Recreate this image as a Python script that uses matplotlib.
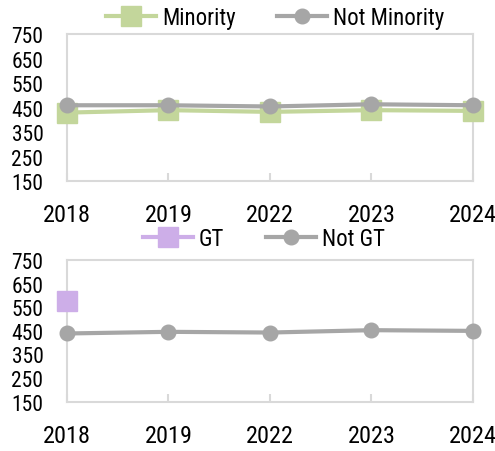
import matplotlib
matplotlib.use('Agg')
import matplotlib.pyplot as plt

# данные
years = ['2018', '2019', '2022', '2023', '2024']
minority = [430, 440, 433, 440, 437]
not_minority = [460, 460, 455, 464, 460]
gt = [577, None, None, None, None]
not_gt = [439, 446, 443, 453, 450]

plt.rcParams['font.family'] = ['Roboto Condensed', 'DejaVu Sans']

green = '#c3d69b'
grey = '#a6a6a6'
lilac = '#cdaee8'
frame = '#d9d9d9'

fig = plt.figure(figsize=(4.95, 4.52), dpi=100)
ax1 = fig.add_axes([0.1354, 0.597, 0.820, 0.325])
ax2 = fig.add_axes([0.1354, 0.109, 0.820, 0.3135])

x = list(range(len(years)))


def style(ax):
    ax.set_xlim(0, 4)
    ax.set_ylim(150, 750)
    ax.set_yticks(range(150, 751, 100))
    ax.set_xticks(x)
    ax.set_xticklabels(years)
    for s in ax.spines.values():
        s.set_color(frame)
        s.set_linewidth(1.5)
    ax.tick_params(axis='y', length=0, pad=17, labelsize=15.5)
    ax.tick_params(axis='x', direction='in', length=6, color=frame, width=1.5,
                   pad=16, labelsize=17.5)


def legend(ax, xc, yc):
    ax.legend(loc='lower center', bbox_to_anchor=(xc, yc), ncol=2, frameon=False,
              fontsize=16.5, handlelength=2.2, columnspacing=1.8, handletextpad=0.25,
              borderpad=0)


ax1.plot(x, minority, color=green, lw=3, marker='s', ms=14, label='Minority', clip_on=False, zorder=3)
ax1.plot(x, not_minority, color=grey, lw=3, marker='o', ms=10.5, label='Not Minority', clip_on=False, zorder=4)
style(ax1)
legend(ax1, 0.512, 0.96)

gt_x = [i for i, v in zip(x, gt) if v is not None]
gt_y = [v for v in gt if v is not None]
ax2.plot(gt_x, gt_y, color=lilac, lw=3, marker='s', ms=14, label='GT', clip_on=False, zorder=3)
ax2.plot(x, not_gt, color=grey, lw=3, marker='o', ms=10.5, label='Not GT', clip_on=False, zorder=4)
style(ax2)
legend(ax2, 0.485, 0.99)

fig.savefig('out.png', dpi=100)
